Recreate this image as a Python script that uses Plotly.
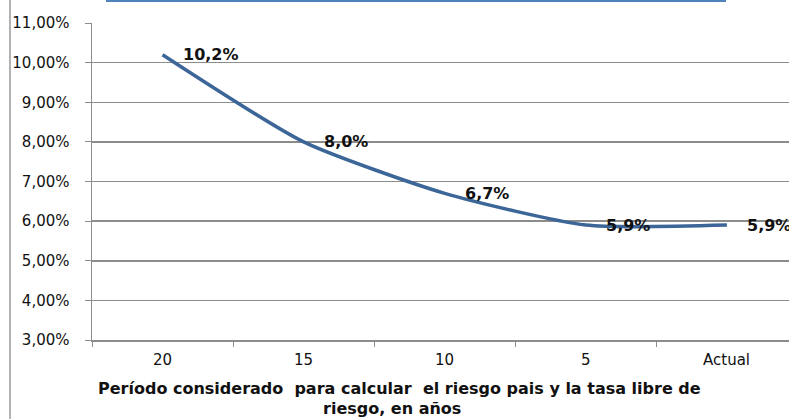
import plotly.graph_objects as go

categories = ["20", "15", "10", "5", "Actual"]
values = [10.2, 8.0, 6.7, 5.9, 5.9]
labels = ["10,2%", "8,0%", "6,7%", "5,9%", "5,9%"]
y_ticks = [3, 4, 5, 6, 7, 8, 9, 10, 11]
y_tick_text = ["3,00%", "4,00%", "5,00%", "6,00%", "7,00%", "8,00%", "9,00%", "10,00%", "11,00%"]
title_line1 = "Período considerado  para calcular  el riesgo pais y la tasa libre de"
title_line2 = "riesgo, en años"

W, H = 789, 419
L, R, T, B = 92, 0, 23, 79
pw, ph = W - L - R, H - T - B

def px_x(p):
    return (p - L) / pw

def px_y(p):
    return (H - B - p) / ph

fig = go.Figure()
fig.add_trace(go.Scatter(
    x=list(range(len(categories))), y=values, mode="lines",
    line=dict(color="#3C6598", width=3.5, shape="spline", smoothing=0.6),
    hoverinfo="skip", showlegend=False,
))

annotations = []
for i, (v, t) in enumerate(zip(values, labels)):
    annotations.append(dict(
        x=i, y=v, xref="x", yref="y", text=t, showarrow=False,
        xanchor="left", yanchor="middle", xshift=18,
        font=dict(family="DejaVu Sans", size=16, color="#111111", weight="bold"),
    ))
annotations.append(dict(
    x=px_x(399), y=px_y(388), xref="paper", yref="paper", text=title_line1,
    showarrow=False, xanchor="center", yanchor="middle",
    font=dict(family="DejaVu Sans", size=16, color="#111111", weight="bold"),
))
annotations.append(dict(
    x=px_x(392), y=px_y(408), xref="paper", yref="paper", text=title_line2,
    showarrow=False, xanchor="center", yanchor="middle",
    font=dict(family="DejaVu Sans", size=16, color="#111111", weight="bold"),
))

shapes = [
    dict(type="line", xref="paper", yref="paper",
         x0=px_x(10), x1=px_x(10), y0=px_y(0), y1=px_y(H),
         line=dict(color="#9a9a9a", width=1.5)),
    dict(type="line", xref="paper", yref="paper",
         x0=px_x(106), x1=px_x(726), y0=px_y(1), y1=px_y(1),
         line=dict(color="#4F81BD", width=2)),
]

fig.update_layout(
    width=W, height=H,
    margin=dict(l=L, r=R, t=T, b=B, pad=0),
    paper_bgcolor="white", plot_bgcolor="white",
    font=dict(family="DejaVu Sans", size=14, color="#111111"),
    annotations=annotations,
    shapes=shapes,
    xaxis=dict(
        range=[-0.5, 4.44],
        tickvals=[i - 0.5 for i in range(len(categories) + 1)],
        ticktext=[""] * (len(categories) + 1),
        showgrid=False, showline=True, linecolor="#8c8c8c", linewidth=1.5,
        ticks="outside", ticklen=5, tickcolor="#8c8c8c",
        zeroline=False, fixedrange=True,
    ),
    yaxis=dict(
        range=[3, 11], tickvals=y_ticks, ticktext=y_tick_text,
        showgrid=True, gridcolor="#8c8c8c", gridwidth=1.5,
        showline=True, linecolor="#8c8c8c", linewidth=1.5,
        ticks="outside", ticklen=6, tickcolor="#8c8c8c",
        ticklabelstandoff=12,
        tickfont=dict(size=15), zeroline=False, fixedrange=True,
    ),
)

for i, c in enumerate(categories):
    fig.add_annotation(
        x=i, y=px_y(360), xref="x", yref="paper", text=c, showarrow=False,
        xanchor="center", yanchor="middle",
        font=dict(family="DejaVu Sans", size=15, color="#111111"),
    )

fig.write_html("out.html", config={"displayModeBar": False, "staticPlot": True},
               post_script="document.body.style.margin='0';")
